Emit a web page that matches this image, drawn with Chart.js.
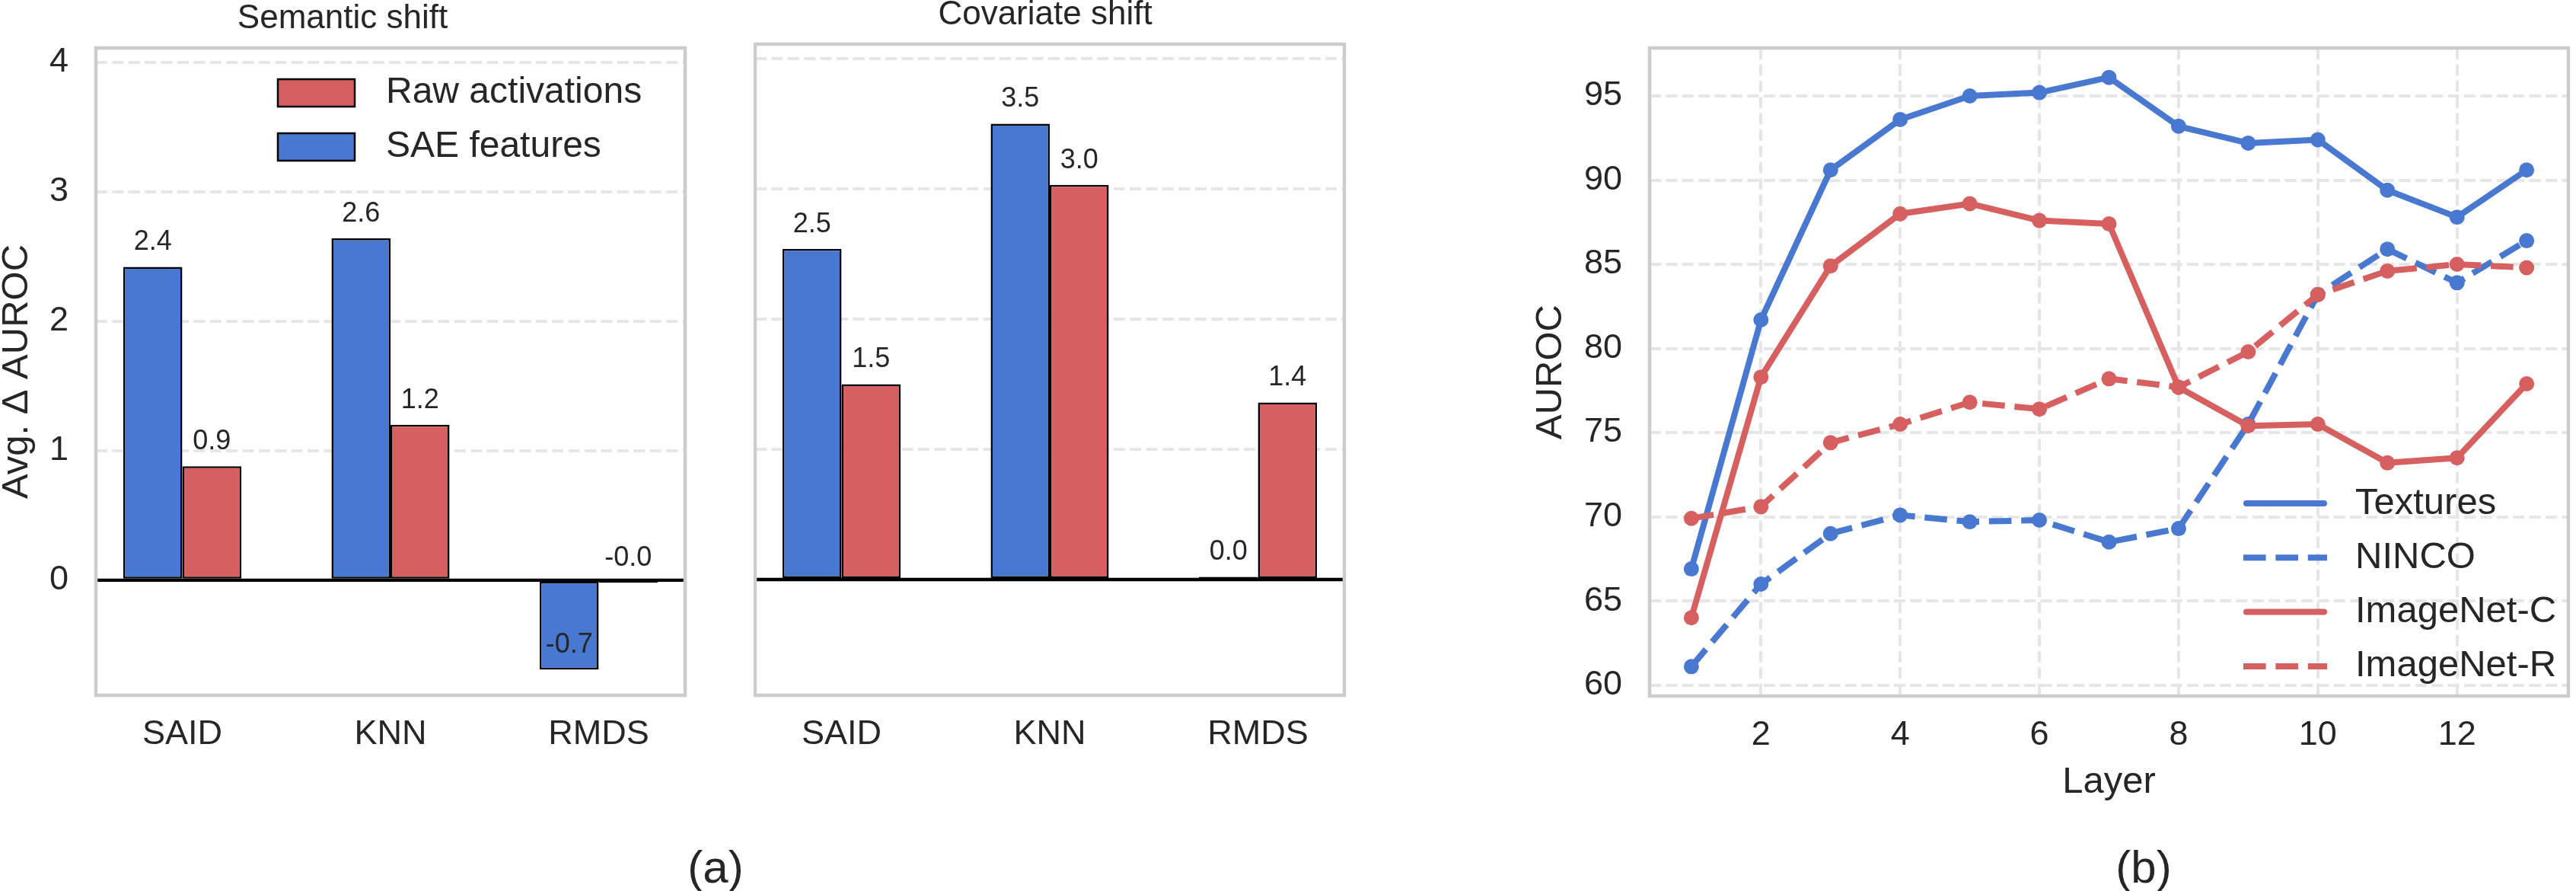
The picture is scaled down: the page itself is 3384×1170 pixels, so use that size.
<!DOCTYPE html>
<html>
<head>
<meta charset="utf-8">
<script src="https://cdn.jsdelivr.net/npm/chart.js@4.4.1/dist/chart.umd.min.js"></script>
<style>
  html, body { margin: 0; padding: 0; background: #fff; }
  #figure { position: relative; width: 3384px; height: 1170px; overflow: hidden; background: #fff; }
  #figure canvas { position: absolute; top: 0; }
  .panel-tag {
    position: absolute;
    font-family: 'Liberation Sans', Arial, sans-serif;
    font-size: 60px;
    line-height: 1;
    color: #262626;
    transform: translate(-50%, -50%);
  }
</style>
</head>
<body>
<div id="figure">
  <canvas id="semanticChart" width="910" height="1000" style="left:0px"></canvas>
  <canvas id="covariateChart" width="796" height="1000" style="left:980px"></canvas>
  <canvas id="layerChart" width="1434" height="1170" style="left:1950px"></canvas>
  <div class="panel-tag" style="left:940px; top:1139px">(a)</div>
  <div class="panel-tag" style="left:2816px; top:1139px">(b)</div>
</div>
<script>
// ==========================================
// DATOS
// ==========================================

const methods = ['SAID', 'KNN', 'RMDS'];
const semanticSae = [2.42, 2.64, -0.69];
const semanticRaw = [0.88, 1.20, -0.02];
const covariateSae = [2.54, 3.50, 0.02];
const covariateRaw = [1.50, 3.03, 1.36];
const deltaTicks = [0, 1, 2, 3, 4];

const layers = [1, 2, 3, 4, 5, 6, 7, 8, 9, 10, 11, 12, 13];
const texturesAuroc = [66.9, 81.7, 90.6, 93.6, 95.0, 95.2, 96.1, 93.2, 92.2, 92.4, 89.4, 87.8, 90.6];
const nincoAuroc = [61.1, 66.0, 69.0, 70.1, 69.7, 69.8, 68.5, 69.3, 75.5, 83.2, 85.9, 83.9, 86.4];
const imagenetCAuroc = [64.0, 78.3, 84.9, 88.0, 88.6, 87.6, 87.4, 77.7, 75.4, 75.5, 73.2, 73.5, 77.9];
const imagenetRAuroc = [69.9, 70.6, 74.4, 75.5, 76.8, 76.4, 78.2, 77.7, 79.8, 83.2, 84.6, 85.0, 84.8];
const layerTicks = [2, 4, 6, 8, 10, 12];
const aurocTicks = [60, 65, 70, 75, 80, 85, 90, 95];

// ==========================================
// ESTILO
// ==========================================

const FONT = "'Liberation Sans', Arial, Helvetica, sans-serif";
const TEXT = '#262626';
const BLUE = '#4878d0';
const RED = '#d65f5f';
const GRID = '#e6e6e6';
const DASH = [29.6, 12.8];

Chart.defaults.font.family = FONT;
Chart.defaults.color = TEXT;

// caja gris alrededor del area del grafico
const frameBox = {
    id: 'frameBox',
    afterDraw(chart) {
        const { ctx, chartArea: a } = chart;
        ctx.save();
        ctx.strokeStyle = '#cccccc';
        ctx.lineWidth = 4.5;
        ctx.strokeRect(a.left, a.top, a.right - a.left, a.bottom - a.top);
        ctx.restore();
    }
};

// linea negra en y = 0
const zeroLine = {
    id: 'zeroLine',
    afterDatasetsDraw(chart) {
        const { ctx, chartArea: a } = chart;
        const y = chart.scales.y.getPixelForValue(0);
        ctx.save();
        ctx.strokeStyle = '#000';
        ctx.lineWidth = 4.3;
        ctx.beginPath();
        ctx.moveTo(a.left, y);
        ctx.lineTo(a.right, y);
        ctx.stroke();
        ctx.restore();
    }
};

// valores encima de cada barra
const barValues = {
    id: 'barValues',
    afterDatasetsDraw(chart) {
        const ctx = chart.ctx;
        ctx.save();
        ctx.font = '36px ' + FONT;
        ctx.fillStyle = TEXT;
        ctx.textAlign = 'center';
        ctx.textBaseline = 'middle';
        chart.data.datasets.forEach((ds, di) => {
            chart.getDatasetMeta(di).data.forEach((bar, i) => {
                const v = ds.data[i].y;
                const y = chart.scales.y.getPixelForValue(v) - 32;
                ctx.fillText(v.toFixed(1), bar.x, y);
            });
        });
        ctx.restore();
    }
};

// leyenda con rectangulos (panel a)
const patchLegend = {
    id: 'patchLegend',
    afterDraw(chart, args, opts) {
        const ctx = chart.ctx;
        ctx.save();
        ctx.font = '48px ' + FONT;
        ctx.textBaseline = 'middle';
        ctx.textAlign = 'left';
        opts.order.forEach((di, row) => {
            const ds = chart.data.datasets[di];
            const cy = opts.top + row * opts.rowGap;
            ctx.fillStyle = ds.backgroundColor;
            ctx.fillRect(opts.left, cy - 18, 101, 36);
            ctx.strokeStyle = '#000';
            ctx.lineWidth = 2.5;
            ctx.strokeRect(opts.left, cy - 18, 101, 36);
            ctx.fillStyle = TEXT;
            ctx.fillText(ds.label, opts.left + 142, cy);
        });
        ctx.restore();
    }
};

// leyenda con lineas (panel b)
const lineLegend = {
    id: 'lineLegend',
    afterDraw(chart, args, opts) {
        const ctx = chart.ctx;
        ctx.save();
        ctx.font = '49px ' + FONT;
        ctx.textBaseline = 'middle';
        ctx.textAlign = 'left';
        chart.data.datasets.forEach((ds, row) => {
            const cy = opts.top + row * opts.rowGap;
            ctx.strokeStyle = ds.borderColor;
            ctx.lineWidth = ds.borderWidth;
            const dashed = ds.borderDash && ds.borderDash.length;
            ctx.setLineDash(dashed ? ds.borderDash : []);
            ctx.lineCap = dashed ? 'butt' : 'round';
            ctx.beginPath();
            ctx.moveTo(opts.left + (dashed ? -2 : 2), cy);
            ctx.lineTo(opts.left + (dashed ? 108 : 104), cy);
            ctx.stroke();
            ctx.setLineDash([]);
            ctx.fillStyle = TEXT;
            ctx.fillText(ds.label, opts.left + 145, cy);
        });
        ctx.restore();
    }
};

// ==========================================
// GRAFICOS DE BARRAS
// ==========================================

function barDataset(label, values, color) {
    return {
        label: label,
        data: values.map((v, i) => ({ x: i, y: v })),
        backgroundColor: color,
        borderColor: '#000',
        borderWidth: 2.5,
        borderSkipped: false,
        categoryPercentage: 0.567,
        barPercentage: 1.0
    };
}

function makeBarChart(canvasId, title, saeValues, rawValues, withYAxis) {
    const plugins = [frameBox, zeroLine, barValues];
    if (withYAxis) plugins.push(patchLegend);

    return new Chart(document.getElementById(canvasId), {
        type: 'bar',
        data: {
            datasets: [
                barDataset('SAE features', saeValues, BLUE),
                barDataset('Raw activations', rawValues, RED)
            ]
        },
        options: {
            responsive: false,
            animation: false,
            devicePixelRatio: 1,
            layout: { padding: { left: 0, right: 10, top: 0, bottom: 0 } },
            plugins: {
                legend: { display: false },
                tooltip: { enabled: false },
                title: {
                    display: true,
                    text: title,
                    color: TEXT,
                    font: { size: 44, weight: 'normal', lineHeight: 0.9 },
                    padding: { top: 0, bottom: 18.4 }
                },
                patchLegend: { left: 365, top: 122, rowGap: 71, order: [1, 0] }
            },
            scales: {
                x: {
                    type: 'linear',
                    min: -0.415,
                    max: 2.415,
                    offset: false,
                    grid: { display: false, drawTicks: false, offset: false },
                    border: { display: false },
                    afterBuildTicks: s => { s.ticks = methods.map((m, i) => ({ value: i })); },
                    ticks: {
                        callback: v => methods[v],
                        font: { size: 45 },
                        padding: 25,
                        maxRotation: 0,
                        autoSkip: false
                    },
                    afterFit: s => { s.height = 87; }
                },
                y: {
                    min: -0.889,
                    max: 4.111,
                    afterBuildTicks: s => { s.ticks = deltaTicks.map(v => ({ value: v })); },
                    grid: { color: GRID, lineWidth: 4, drawTicks: false },
                    border: { display: false, dash: [15, 6.4] },
                    ticks: { display: withYAxis, font: { size: 45 }, padding: 36 },
                    title: {
                        display: withYAxis,
                        text: 'Avg. \u0394 AUROC',
                        font: { size: 49, lineHeight: 0.9 },
                        padding: { top: 0, bottom: 0 }
                    },
                    afterFit: s => { s.width = withYAxis ? 126 : 12; }
                }
            }
        },
        plugins: plugins
    });
}

makeBarChart('semanticChart', 'Semantic shift', semanticSae, semanticRaw, true);
makeBarChart('covariateChart', 'Covariate shift', covariateSae, covariateRaw, false);

// ==========================================
// GRAFICO DE CAPAS
// ==========================================

function lineDataset(label, values, color, dashed, order) {
    return {
        label: label,
        data: layers.map((l, i) => ({ x: l, y: values[i] })),
        borderColor: color,
        backgroundColor: color,
        borderWidth: 8,
        borderDash: dashed ? DASH : [],
        borderJoinStyle: 'round',
        pointRadius: 10,
        pointBorderWidth: 0,
        pointBackgroundColor: color,
        tension: 0,
        fill: false,
        order: order
    };
}

new Chart(document.getElementById('layerChart'), {
    type: 'line',
    data: {
        datasets: [
            lineDataset('Textures', texturesAuroc, BLUE, false, 3),
            lineDataset('NINCO', nincoAuroc, BLUE, true, 2),
            lineDataset('ImageNet-C', imagenetCAuroc, RED, false, 1),
            lineDataset('ImageNet-R', imagenetRAuroc, RED, true, 0)
        ]
    },
    options: {
        responsive: false,
        animation: false,
        devicePixelRatio: 1,
        layout: { padding: { left: 0, right: 3, top: 58, bottom: 0 } },
        plugins: {
            legend: { display: false },
            tooltip: { enabled: false },
            lineLegend: { left: 999, top: 661, rowGap: 71.3 }
        },
        scales: {
            x: {
                type: 'linear',
                min: 0.4,
                max: 13.6,
                afterBuildTicks: s => { s.ticks = layerTicks.map(v => ({ value: v })); },
                grid: { color: GRID, lineWidth: 4, drawTicks: false },
                border: { display: false, dash: [15, 6.4] },
                ticks: { font: { size: 45 }, padding: 25, maxRotation: 0, autoSkip: false },
                title: {
                    display: true,
                    text: 'Layer',
                    font: { size: 49, lineHeight: 0.9 },
                    padding: { top: 0, bottom: 120 }
                },
                afterFit: s => { s.height = 256; }
            },
            y: {
                min: 59.35,
                max: 97.85,
                afterBuildTicks: s => { s.ticks = aurocTicks.map(v => ({ value: v })); },
                grid: { color: GRID, lineWidth: 4, drawTicks: false },
                border: { display: false, dash: [15, 6.4] },
                ticks: { font: { size: 45 }, padding: 36 },
                title: {
                    display: true,
                    text: 'AUROC',
                    font: { size: 49, lineHeight: 0.9 },
                    padding: { top: 65, bottom: 0 }
                },
                afterFit: s => { s.width = 217; }
            }
        }
    },
    plugins: [frameBox, lineLegend]
});
</script>
</body>
</html>
